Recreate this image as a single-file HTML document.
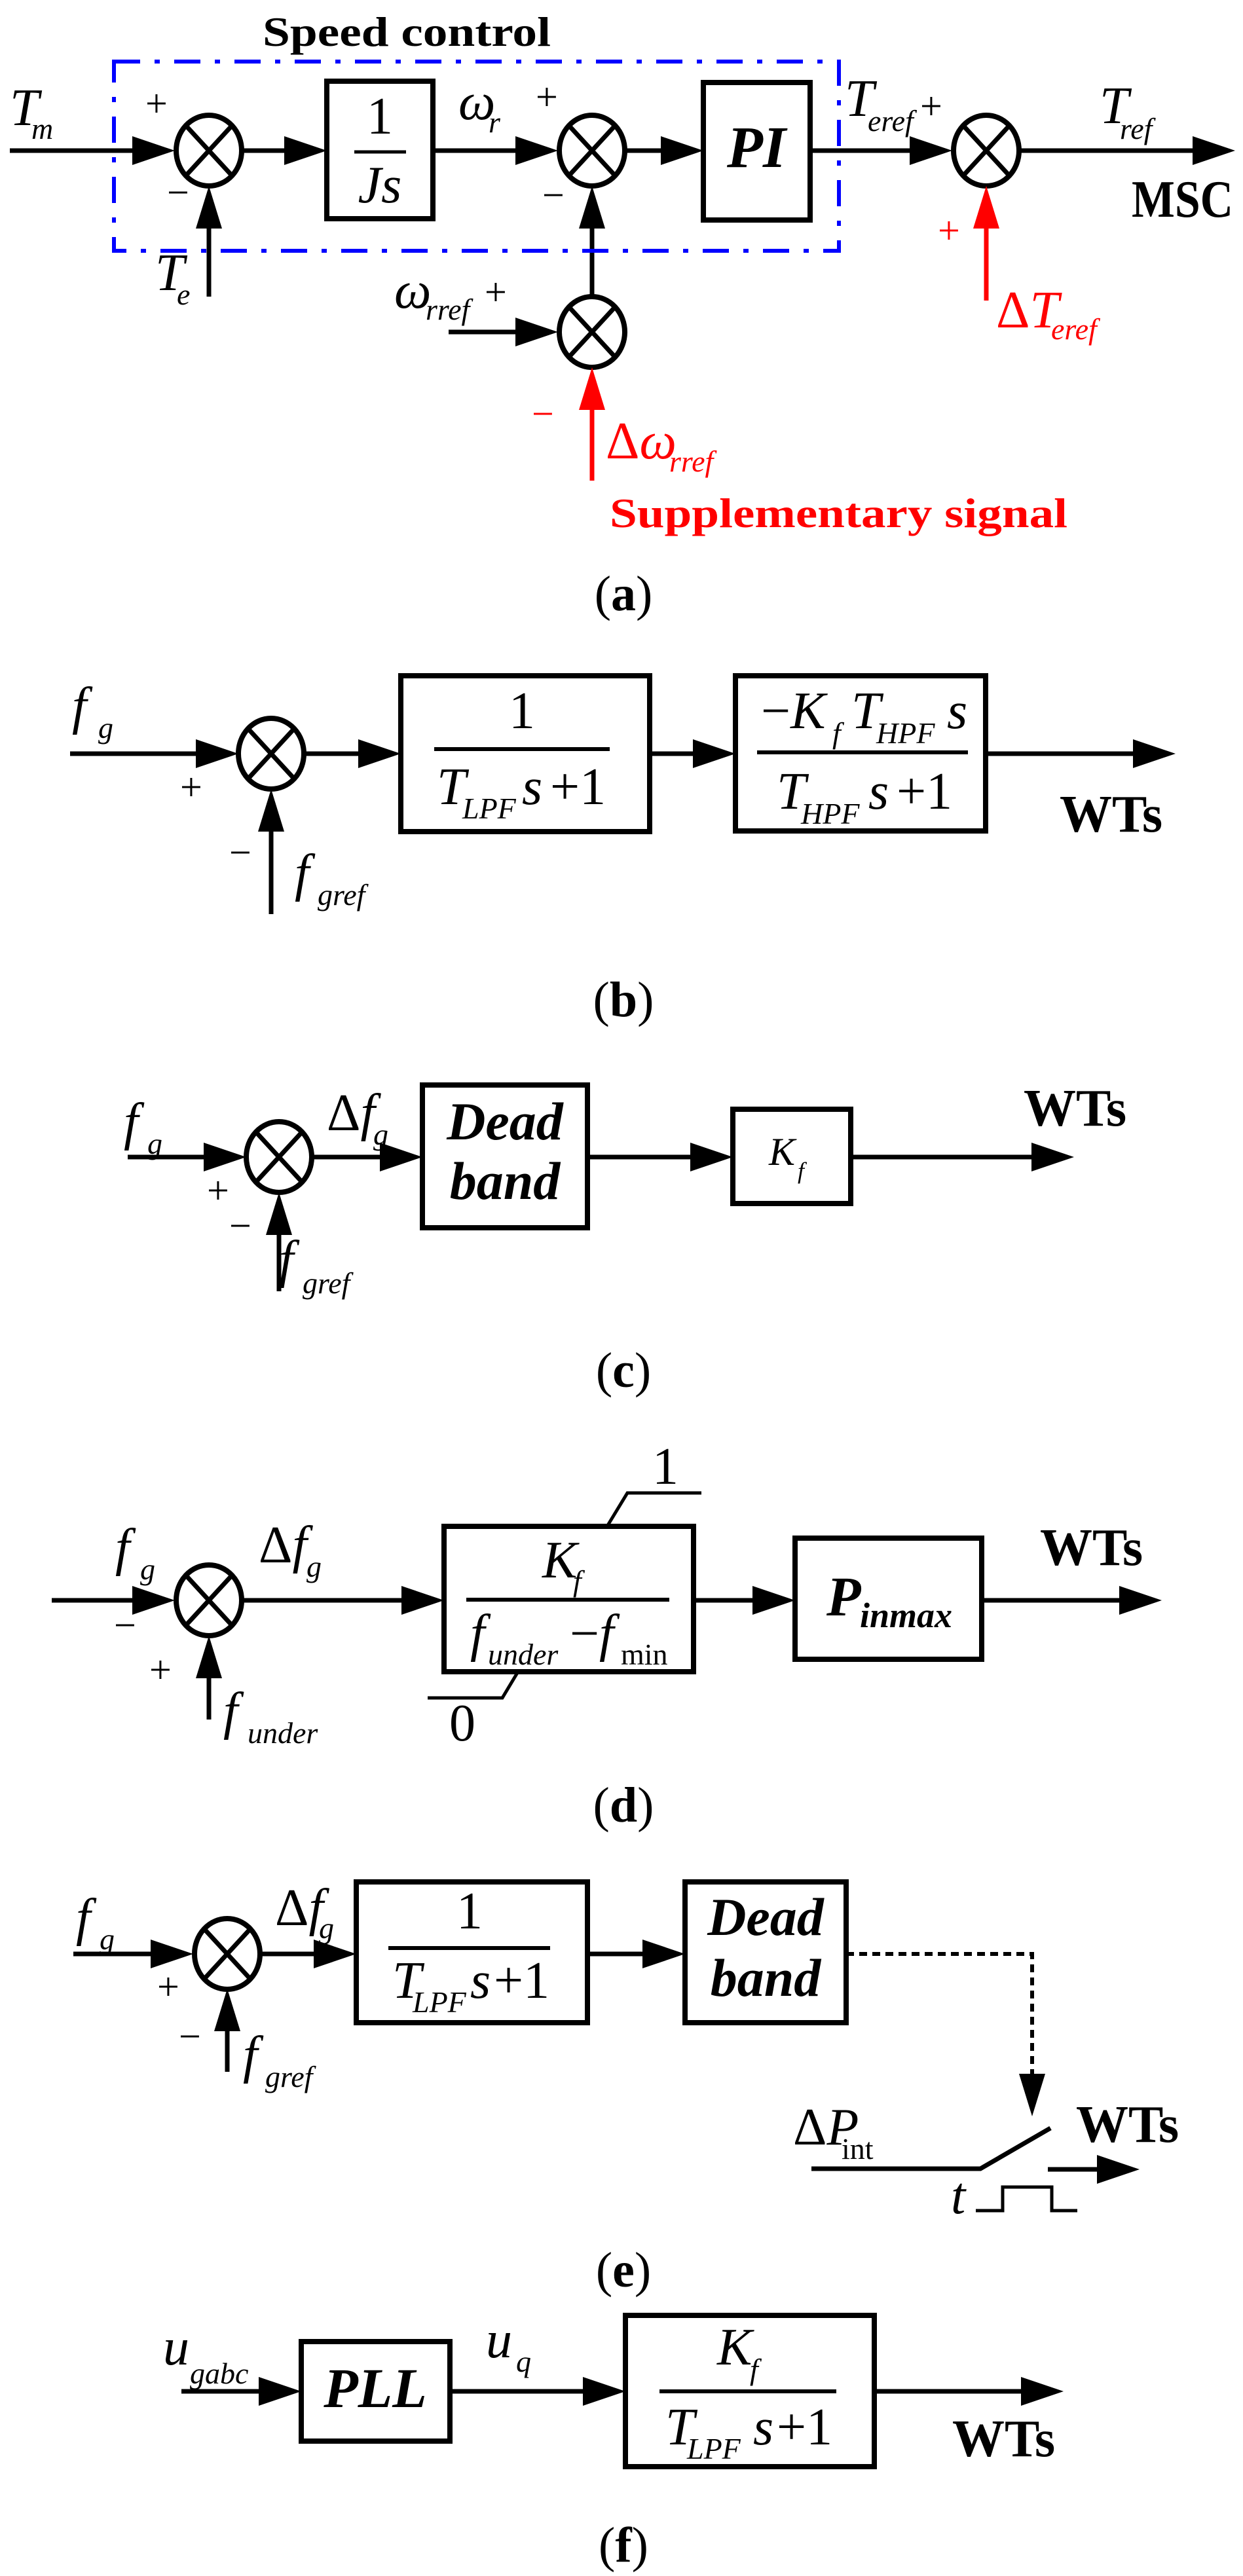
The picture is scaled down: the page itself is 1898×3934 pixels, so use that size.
<!DOCTYPE html>
<html><head><meta charset="utf-8"><style>
html,body{margin:0;padding:0;background:#fff;}
svg{display:block;}
text{font-family:"Liberation Serif",serif;}
.v{font-style:italic;font-size:80px;}
.s{font-style:italic;font-size:46px;}
.n{font-size:80px;}
.p{font-size:60px;}
.b{font-weight:bold;font-size:80px;}
.bi{font-weight:bold;font-style:italic;font-size:82px;}
.cap{font-size:76px;}
</style></head><body>
<svg width="1898" height="3934" viewBox="0 0 1898 3934" xmlns="http://www.w3.org/2000/svg">
<defs>
<g id="sum"><ellipse cx="0" cy="0" rx="50" ry="54" fill="#fff" stroke="#000" stroke-width="8"/><line x1="-35" y1="-38" x2="35" y2="38" stroke="#000" stroke-width="7"/><line x1="35" y1="-38" x2="-35" y2="38" stroke="#000" stroke-width="7"/></g>
</defs>
<g stroke="#000" stroke-width="7" fill="none">
<!-- (a) -->
<line x1="15" y1="230" x2="210" y2="230"/>
<line x1="369" y1="230" x2="440" y2="230"/>
<rect x="499" y="124" width="162" height="210" stroke-width="8"/>
<line x1="661" y1="230" x2="792" y2="230"/>
<line x1="954" y1="230" x2="1015" y2="230"/>
<rect x="1074" y="126" width="163" height="210" stroke-width="8"/>
<line x1="1237" y1="230" x2="1395" y2="230"/>
<line x1="1556" y1="230" x2="1825" y2="230"/>
<line x1="319" y1="453" x2="319" y2="340"/>
<line x1="685" y1="507" x2="792" y2="507"/>
<line x1="904" y1="453" x2="904" y2="340"/>
<line x1="541" y1="232" x2="620" y2="232" stroke-width="5"/>
</g>
<g stroke="#f00" stroke-width="7"><line x1="1506" y1="459" x2="1506" y2="340"/><line x1="904" y1="734" x2="904" y2="620"/></g>
<rect x="174" y="94" width="1107" height="289" fill="none" stroke="#0000ff" stroke-width="6" stroke-dasharray="40 22 8 22"/>
<use href="#sum" x="319" y="230"/><use href="#sum" x="904" y="230"/><use href="#sum" x="1506" y="230"/><use href="#sum" x="904" y="507"/>
<g fill="#000">
<polygon points="202,208 267,230 202,252"/>
<polygon points="434,208 499,230 434,252"/>
<polygon points="787,208 852,230 787,252"/>
<polygon points="1009,208 1074,230 1009,252"/>
<polygon points="1389,208 1454,230 1389,252"/>
<polygon points="1821,208 1886,230 1821,252"/>
<polygon points="299,349 319,284 339,349"/>
<polygon points="787,485 852,507 787,529"/>
<polygon points="884,349 904,284 924,349"/>
</g>
<g fill="#f00"><polygon points="1486,349 1506,284 1526,349"/><polygon points="884,626 904,561 924,626"/></g>
<text x="401" y="70" class="b" style="font-size:64px" textLength="440" lengthAdjust="spacingAndGlyphs">Speed control</text>
<text x="15" y="191" class="v">T</text><text x="48" y="212" class="s">m</text>
<text x="222" y="178" class="p">+</text><text x="255" y="314" class="p">−</text>
<text x="237" y="443" class="v">T</text><text x="270" y="465" class="s">e</text>
<text x="580" y="204" class="n" text-anchor="middle">1</text>
<text x="580" y="309" class="v" text-anchor="middle">Js</text>
<text x="700" y="182" class="v">ω</text><text x="746" y="202" class="s">r</text>
<text x="818" y="168" class="p">+</text><text x="828" y="318" class="p">−</text>
<text x="1155" y="255" class="bi" style="font-size:90px" text-anchor="middle">PI</text>
<text x="1290" y="177" class="v">T</text><text x="1325" y="200" class="s">eref</text><text x="1405" y="182" class="p">+</text>
<text x="1679" y="188" class="v">T</text><text x="1710" y="212" class="s">ref</text>
<text x="1728" y="331" class="b" textLength="155" lengthAdjust="spacingAndGlyphs">MSC</text>
<text x="1432" y="372" class="p" fill="#f00">+</text>
<text x="1521" y="500" class="v" fill="#f00"><tspan font-style="normal">Δ</tspan>T</text><text x="1605" y="518" class="s" fill="#f00">eref</text>
<text x="602" y="470" class="v">ω</text><text x="650" y="488" class="s">rref</text><text x="740" y="466" class="p">+</text>
<text x="812" y="652" class="p" fill="#f00">−</text>
<text x="925" y="700" class="v" fill="#f00"><tspan font-style="normal">Δ</tspan>ω</text><text x="1022" y="720" class="s" fill="#f00">rref</text>
<text x="931" y="805" class="b" fill="#f00" style="font-size:64px" textLength="699" lengthAdjust="spacingAndGlyphs">Supplementary signal</text>
<text x="952" y="932" class="cap" text-anchor="middle">(<tspan font-weight="bold">a</tspan>)</text>

<!-- (b) -->
<g stroke="#000" stroke-width="7" fill="none">
<line x1="107" y1="1151" x2="300" y2="1151"/>
<line x1="464" y1="1151" x2="550" y2="1151"/>
<rect x="612" y="1032" width="380" height="238" stroke-width="8"/>
<line x1="992" y1="1151" x2="1060" y2="1151"/>
<rect x="1123" y="1032" width="382" height="237" stroke-width="8"/>
<line x1="1505" y1="1151" x2="1735" y2="1151"/>
<line x1="414" y1="1396" x2="414" y2="1260"/>
<line x1="663" y1="1144" x2="931" y2="1144" stroke-width="6"/>
<line x1="1156" y1="1149" x2="1478" y2="1149" stroke-width="6"/>
</g>
<use href="#sum" x="414" y="1151"/>
<g fill="#000">
<polygon points="299,1129 364,1151 299,1173"/>
<polygon points="547,1129 612,1151 547,1173"/>
<polygon points="1058,1129 1123,1151 1058,1173"/>
<polygon points="1730,1129 1795,1151 1730,1173"/>
<polygon points="394,1270 414,1205 434,1270"/>
</g>
<text x="110" y="1105" class="v">f</text><text x="150" y="1127" class="s">g</text>
<text x="275" y="1222" class="p">+</text><text x="350" y="1322" class="p">−</text>
<text x="450" y="1360" class="v">f</text><text x="485" y="1382" class="s">gref</text>
<text x="797" y="1112" class="n" text-anchor="middle">1</text>
<text x="667" y="1228" class="v">T</text><text x="706" y="1250" class="s">LPF</text><text x="797" y="1228" class="v">s</text><text x="840" y="1228" class="n">+1</text>
<text x="1162" y="1112" class="v"><tspan font-style="normal">−</tspan>K</text><text x="1271" y="1135" class="s">f</text><text x="1300" y="1112" class="v">T</text><text x="1338" y="1135" class="s">HPF</text><text x="1446" y="1112" class="v">s</text>
<text x="1186" y="1235" class="v">T</text><text x="1223" y="1258" class="s">HPF</text><text x="1326" y="1235" class="v">s</text><text x="1369" y="1235" class="n">+1</text>
<text x="1618" y="1270" class="b">WTs</text>
<text x="952" y="1552" class="cap" text-anchor="middle">(<tspan font-weight="bold">b</tspan>)</text>

<!-- (c) -->
<g stroke="#000" stroke-width="7" fill="none">
<line x1="195" y1="1767" x2="320" y2="1767"/>
<line x1="476" y1="1767" x2="585" y2="1767"/>
<rect x="645" y="1657" width="252" height="218" stroke-width="8"/>
<line x1="897" y1="1767" x2="1060" y2="1767"/>
<rect x="1119" y="1694" width="180" height="144" stroke-width="8"/>
<line x1="1299" y1="1767" x2="1580" y2="1767"/>
<line x1="426" y1="1972" x2="426" y2="1870"/>
</g>
<use href="#sum" x="426" y="1767"/>
<g fill="#000">
<polygon points="311,1745 376,1767 311,1789"/>
<polygon points="580,1745 645,1767 580,1789"/>
<polygon points="1054,1745 1119,1767 1054,1789"/>
<polygon points="1575,1745 1640,1767 1575,1789"/>
<polygon points="406,1886 426,1821 446,1886"/>
</g>
<text x="189" y="1740" class="v">f</text><text x="225" y="1762" class="s">g</text>
<text x="499" y="1726" class="v"><tspan font-style="normal">Δ</tspan>f</text><text x="570" y="1748" class="s">g</text>
<text x="771" y="1740" class="bi" text-anchor="middle">Dead</text>
<text x="771" y="1831" class="bi" text-anchor="middle">band</text>
<text x="1174" y="1779" class="v" style="font-size:60px">K</text><text x="1218" y="1800" class="s" style="font-size:36px">f</text>
<text x="1563" y="1719" class="b">WTs</text>
<text x="316" y="1838" class="p">+</text><text x="350" y="1892" class="p">−</text>
<text x="426" y="1950" class="v">f</text><text x="462" y="1975" class="s">gref</text>
<text x="952" y="2118" class="cap" text-anchor="middle">(<tspan font-weight="bold">c</tspan>)</text>

<!-- (d) -->
<g stroke="#000" stroke-width="7" fill="none">
<line x1="79" y1="2444" x2="210" y2="2444"/>
<line x1="369" y1="2444" x2="620" y2="2444"/>
<rect x="678" y="2331" width="381" height="222" stroke-width="8"/>
<line x1="1059" y1="2444" x2="1155" y2="2444"/>
<rect x="1214" y="2349" width="285" height="185" stroke-width="8"/>
<line x1="1499" y1="2444" x2="1715" y2="2444"/>
<line x1="319" y1="2626" x2="319" y2="2550"/>
<line x1="712" y1="2443" x2="1022" y2="2443" stroke-width="6"/>
<polyline points="927,2331 958,2280 1071,2280" stroke-width="5"/>
<polyline points="791,2553 767,2593 653,2593" stroke-width="5"/>
</g>
<use href="#sum" x="319" y="2444"/>
<g fill="#000">
<polygon points="202,2422 267,2444 202,2466"/>
<polygon points="613,2422 678,2444 613,2466"/>
<polygon points="1149,2422 1214,2444 1149,2466"/>
<polygon points="1709,2422 1774,2444 1709,2466"/>
<polygon points="299,2563 319,2498 339,2563"/>
</g>
<text x="176" y="2390" class="v">f</text><text x="214" y="2412" class="s">g</text>
<text x="395" y="2386" class="v"><tspan font-style="normal">Δ</tspan>f</text><text x="468" y="2408" class="s">g</text>
<text x="174" y="2502" class="p">−</text><text x="228" y="2570" class="p">+</text>
<text x="341" y="2640" class="v">f</text><text x="378" y="2662" class="s">under</text>
<text x="1016" y="2266" class="n" text-anchor="middle">1</text>
<text x="706" y="2658" class="n" text-anchor="middle">0</text>
<text x="828" y="2409" class="v">K</text><text x="875" y="2430" class="s">f</text>
<text x="718" y="2521" class="v">f</text><text x="745" y="2542" class="s">under</text><text x="870" y="2521" class="n">−</text><text x="915" y="2521" class="v">f</text><text x="948" y="2542" style="font-size:46px">min</text>
<text x="1262" y="2467" class="bi" style="font-size:86px">P</text><text x="1313" y="2485" class="bi" style="font-size:54px">inmax</text>
<text x="1588" y="2390" class="b">WTs</text>
<text x="952" y="2782" class="cap" text-anchor="middle">(<tspan font-weight="bold">d</tspan>)</text>

<!-- (e) -->
<g stroke="#000" stroke-width="7" fill="none">
<line x1="112" y1="2984" x2="240" y2="2984"/>
<line x1="397" y1="2984" x2="485" y2="2984"/>
<rect x="544" y="2874" width="353" height="215" stroke-width="8"/>
<line x1="897" y1="2984" x2="985" y2="2984"/>
<rect x="1046" y="2874" width="246" height="215" stroke-width="8"/>
<line x1="347" y1="3164" x2="347" y2="3095"/>
<line x1="593" y1="2975" x2="840" y2="2975" stroke-width="6"/>
<polyline points="1239,3312 1497,3312 1604,3250"/>
<line x1="1600" y1="3313" x2="1680" y2="3313"/>
<polyline points="1490,3376 1531,3376 1531,3340 1606,3340 1606,3376 1645,3376" stroke-width="5"/>
<polyline points="1292,2984 1576,2984 1576,3170" stroke-width="6" stroke-dasharray="12 8"/>
</g>
<use href="#sum" x="347" y="2984"/>
<g fill="#000">
<polygon points="230,2962 295,2984 230,3006"/>
<polygon points="479,2962 544,2984 479,3006"/>
<polygon points="981,2962 1046,2984 981,3006"/>
<polygon points="327,3102 347,3037 367,3102"/>
<polygon points="1556,3167 1576,3232 1596,3167"/>
<polygon points="1675,3291 1740,3313 1675,3335"/>
</g>
<text x="116" y="2955" class="v">f</text><text x="152" y="2977" class="s">g</text>
<text x="420" y="2940" class="v"><tspan font-style="normal">Δ</tspan>f</text><text x="487" y="2960" class="s">g</text>
<text x="240" y="3054" class="p">+</text><text x="273" y="3130" class="p">−</text>
<text x="371" y="3165" class="v">f</text><text x="405" y="3187" class="s">gref</text>
<text x="717" y="2945" class="n" text-anchor="middle">1</text>
<text x="599" y="3051" class="v">T</text><text x="630" y="3073" class="s">LPF</text><text x="718" y="3051" class="v">s</text><text x="754" y="3051" class="n">+1</text>
<text x="1169" y="2955" class="bi" text-anchor="middle">Dead</text>
<text x="1169" y="3048" class="bi" text-anchor="middle">band</text>
<text x="1211" y="3275" class="v"><tspan font-style="normal">Δ</tspan>P</text><text x="1285" y="3297" style="font-size:46px">int</text>
<text x="1643" y="3271" class="b">WTs</text>
<text x="1452" y="3380" class="v">t</text>
<text x="952" y="3492" class="cap" text-anchor="middle">(<tspan font-weight="bold">e</tspan>)</text>

<!-- (f) -->
<g stroke="#000" stroke-width="7" fill="none">
<line x1="277" y1="3652" x2="400" y2="3652"/>
<rect x="460" y="3576" width="227" height="152" stroke-width="8"/>
<line x1="687" y1="3652" x2="895" y2="3652"/>
<rect x="955" y="3536" width="380" height="231" stroke-width="8"/>
<line x1="1335" y1="3652" x2="1565" y2="3652"/>
<line x1="1007" y1="3652" x2="1277" y2="3652" stroke-width="6"/>
</g>
<g fill="#000">
<polygon points="395,3630 460,3652 395,3674"/>
<polygon points="890,3630 955,3652 890,3674"/>
<polygon points="1559,3630 1624,3652 1559,3674"/>
</g>
<text x="249" y="3611" class="v">u</text><text x="290" y="3640" class="s">gabc</text>
<text x="573" y="3676" class="bi" style="font-size:86px" text-anchor="middle">PLL</text>
<text x="742" y="3600" class="v">u</text><text x="788" y="3622" class="s">q</text>
<text x="1095" y="3611" class="v">K</text><text x="1145" y="3634" class="s">f</text>
<text x="1016" y="3733" class="v">T</text><text x="1049" y="3755" class="s">LPF</text><text x="1150" y="3733" class="v">s</text><text x="1186" y="3733" class="n">+1</text>
<text x="1454" y="3751" class="b">WTs</text>
<text x="952" y="3912" class="cap" text-anchor="middle">(<tspan font-weight="bold">f</tspan>)</text>
</svg>
</body></html>
